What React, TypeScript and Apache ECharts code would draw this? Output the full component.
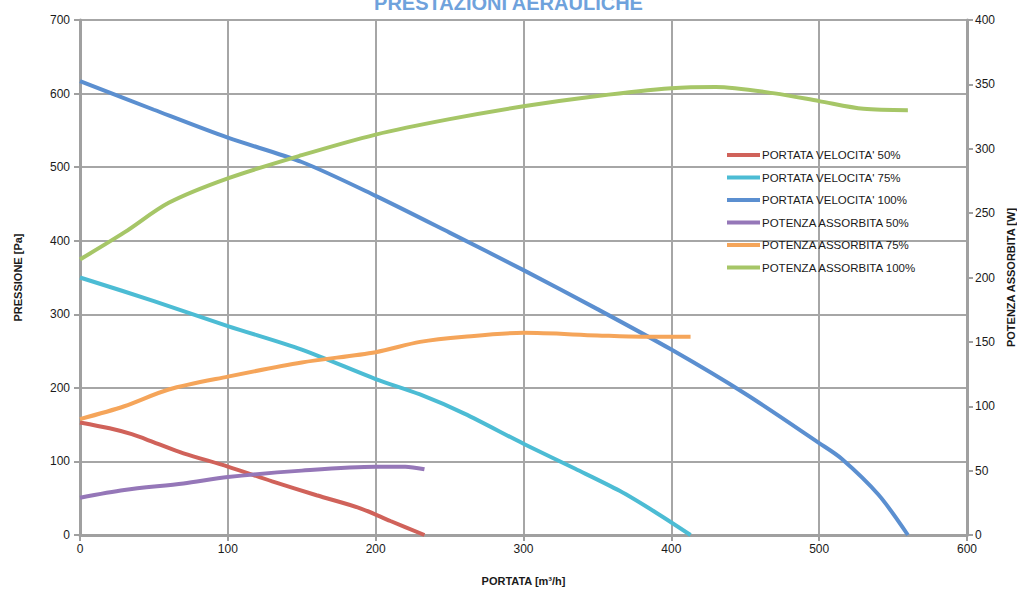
import React, { useEffect, useRef } from "react";
import * as echarts from "echarts";

const xTicks = [0, 100, 200, 300, 400, 500, 600];
const leftTicks = [0, 100, 200, 300, 400, 500, 600, 700];
const rightTicks = [0, 50, 100, 150, 200, 250, 300, 350, 400];

const seriesNames = [
  "PORTATA VELOCITA' 50%",
  "PORTATA VELOCITA' 75%",
  "PORTATA VELOCITA' 100%",
  "POTENZA ASSORBITA 50%",
  "POTENZA ASSORBITA 75%",
  "POTENZA ASSORBITA 100%",
];
const seriesColors = ["#d0625a", "#4cbcd4", "#5b8fd0", "#9577b8", "#f5a55a", "#a6c667"];

const pressure50: number[][] = [
  [0, 153], [20, 145], [35, 137], [50, 126], [70, 111], [100, 93], [130, 73],
  [160, 54], [190, 36], [210, 19], [233, 0],
];
const pressure75: number[][] = [
  [0, 350], [50, 318], [100, 284], [150, 252], [200, 212], [230, 191],
  [260, 165], [300, 124], [335, 90], [365, 60], [390, 30], [413, 0],
];
const pressure100: number[][] = [
  [0, 617], [50, 578], [100, 540], [150, 507], [200, 461], [250, 411],
  [300, 360], [350, 307], [400, 252], [450, 192], [500, 125], [515, 104],
  [540, 55], [560, 0],
];
const power50: number[][] = [
  [0, 29], [30, 35], [70, 40], [100, 45], [150, 50], [200, 53], [220, 53], [233, 51],
];
const power75: number[][] = [
  [0, 90], [30, 100], [60, 113], [100, 123], [150, 134], [200, 142], [230, 150],
  [260, 154], [300, 157], [350, 155], [380, 154], [413, 154],
];
const power100: number[][] = [
  [0, 214], [30, 235], [60, 258], [100, 277], [150, 295], [200, 311], [250, 323],
  [300, 333], [350, 341], [400, 347], [430, 348], [470, 343], [500, 337],
  [530, 331], [560, 330],
];

const seriesData = [pressure50, pressure75, pressure100, power50, power75, power100];
const seriesAxis = [0, 0, 0, 1, 1, 1];

const FONT = "'Liberation Sans', Arial, sans-serif";
const AXIS_GRAY = "#a0a0a0";

export default function App() {
  const ref = useRef<HTMLDivElement>(null);
  useEffect(() => {
    if (!ref.current) return;
    const chart = echarts.init(ref.current, undefined, { renderer: "svg" });
    chart.setOption({
      animation: false,
      backgroundColor: "#ffffff",
      title: {
        text: "PRESTAZIONI AERAULICHE",
        left: "center",
        top: -7,
        padding: 0,
        textStyle: { color: "#6fa2dc", fontSize: 20, fontWeight: "bold", fontFamily: FONT },
      },
      grid: { left: 80, right: 50, top: 20, bottom: 55, containLabel: false, outerBoundsMode: "none" },
      legend: {
        orient: "vertical",
        left: 727,
        top: 148,
        padding: 0,
        itemWidth: 33,
        itemHeight: 4,
        itemGap: 8.5,
        icon: "rect",
        data: seriesNames,
        textStyle: { fontSize: 11.5, lineHeight: 14, color: "#1a1a1a", fontFamily: FONT, padding: [0, 0, 0, -3] },
      },
      xAxis: {
        type: "value",
        min: xTicks[0],
        max: xTicks[xTicks.length - 1],
        interval: 100,
        name: "PORTATA [m³/h]",
        nameLocation: "middle",
        nameGap: 40,
        nameTextStyle: { fontSize: 11, fontWeight: "bold", color: "#1a1a1a", fontFamily: FONT },
        axisLine: { show: true, lineStyle: { color: AXIS_GRAY, width: 3 } },
        axisTick: { show: true, length: 6, lineStyle: { color: AXIS_GRAY, width: 2 } },
        axisLabel: { fontSize: 12, color: "#1a1a1a", fontFamily: FONT, margin: 8 },
        splitLine: { show: true, lineStyle: { color: "#a6a6a6", width: 2 } },
      },
      yAxis: [
        {
          type: "value",
          min: leftTicks[0],
          max: leftTicks[leftTicks.length - 1],
          interval: 100,
          position: "left",
          name: "PRESSIONE [Pa]",
          nameLocation: "middle",
          nameGap: 57,
          nameRotate: 90,
          nameTextStyle: { fontSize: 11, fontWeight: "bold", color: "#1a1a1a", fontFamily: FONT },
          axisLine: { show: true, lineStyle: { color: AXIS_GRAY, width: 3 } },
          axisTick: { show: true, length: 6, lineStyle: { color: AXIS_GRAY, width: 2 } },
          axisLabel: { fontSize: 12, color: "#1a1a1a", fontFamily: FONT, margin: 10 },
          splitLine: { show: true, lineStyle: { color: "#a6a6a6", width: 2 } },
        },
        {
          type: "value",
          min: rightTicks[0],
          max: rightTicks[rightTicks.length - 1],
          interval: 50,
          position: "right",
          name: "POTENZA ASSORBITA [W]",
          nameLocation: "middle",
          nameGap: 37,
          nameRotate: 90,
          nameTextStyle: { fontSize: 11, fontWeight: "bold", color: "#1a1a1a", fontFamily: FONT },
          axisLine: { show: true, lineStyle: { color: AXIS_GRAY, width: 3 } },
          axisTick: { show: true, length: 6, inside: false, lineStyle: { color: AXIS_GRAY, width: 2 } },
          axisLabel: { fontSize: 12, color: "#1a1a1a", fontFamily: FONT, margin: 8 },
          splitLine: { show: false },
        },
      ],
      series: seriesNames.map((name, i) => ({
        name,
        type: "line",
        yAxisIndex: seriesAxis[i],
        data: seriesData[i],
        smooth: 0.3,
        showSymbol: false,
        symbol: "none",
        lineStyle: { color: seriesColors[i], width: 4 },
        itemStyle: { color: seriesColors[i] },
        z: 3,
      })),
    });
    return () => chart.dispose();
  }, []);
  return <div ref={ref} style={{ width: 1017, height: 590, position: "absolute", left: 0, top: 0 }} />;
}
